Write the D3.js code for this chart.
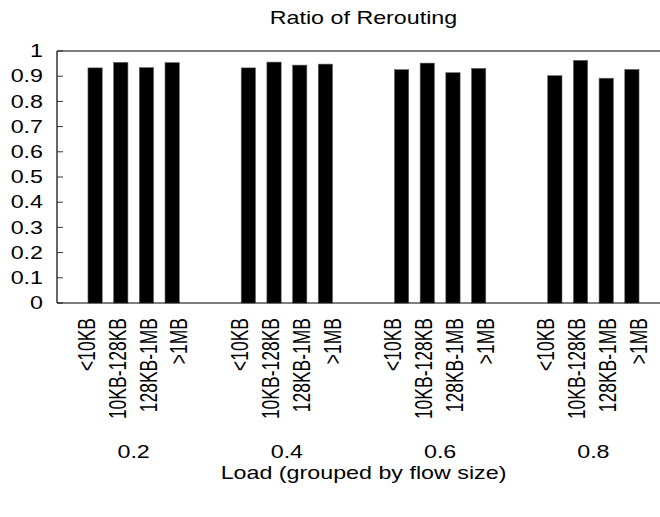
<!DOCTYPE html>
<html>
<head>
<meta charset="utf-8">
<script src="https://cdn.jsdelivr.net/npm/d3@7"></script>
<style>
  html, body { margin: 0; padding: 0; background: #fff; }
  svg { display: block; }
  text { font-family: "Liberation Sans", Arial, sans-serif; fill: #000; }
</style>
</head>
<body>
<svg id="chart" width="660" height="517"></svg>
<script>
// Loads on the x axis and the flow-size buckets inside each load group
const loads = ["0.2", "0.4", "0.6", "0.8"];
const sizes = ["<10KB", "10KB-128KB", "128KB-1MB", ">1MB"];

// Ratio of rerouted flows, one array per flow-size bucket (indexed by load)
const ratioLt10KB   = [0.933, 0.933, 0.926, 0.902];
const ratio10to128  = [0.955, 0.956, 0.952, 0.963];
const ratio128to1MB = [0.934, 0.944, 0.914, 0.892];
const ratioGt1MB    = [0.954, 0.948, 0.931, 0.927];

const yTicks = [0, 0.1, 0.2, 0.3, 0.4, 0.5, 0.6, 0.7, 0.8, 0.9, 1];

const series = [ratioLt10KB, ratio10to128, ratio128to1MB, ratioGt1MB];
const rows = loads.map((load, i) => ({
  load,
  values: sizes.map((size, j) => ({ size, value: series[j][i] }))
}));

const W = 660, H = 517;
const margin = { top: 51, left: 57, bottom: 214, right: -10 };
const plotW = W - margin.left - margin.right;
const plotH = H - margin.top - margin.bottom;
const SX = 1.33;    // horizontal stretch of the lettering
const FS = 17.5;

const svg = d3.select("#chart");
const g = svg.append("g").attr("transform", `translate(${margin.left},${margin.top})`);

const x0 = d3.scaleBand().domain(loads).range([0, plotW]).paddingInner(0.404).paddingOuter(0.202);
const x1 = d3.scaleBand().domain(sizes).range([0, x0.bandwidth()]).paddingInner(0.444).paddingOuter(0);
const xl = d3.scalePoint().domain(sizes).range([-1.5, x0.bandwidth()]);
const y = d3.scaleLinear().domain([0, 1]).range([plotH, 0]);

// frame: left, top and bottom edges
g.append("line").attr("x1", 0).attr("x2", 0).attr("y1", 0).attr("y2", plotH)
  .attr("stroke", "#000").attr("stroke-width", 1.2);
g.append("line").attr("x1", 0).attr("x2", plotW).attr("y1", 0).attr("y2", 0)
  .attr("stroke", "#000").attr("stroke-width", 1.2);

// y ticks (inward) and labels
const yTick = g.append("g").selectAll("g").data(yTicks).join("g")
  .attr("transform", d => `translate(0,${y(d)})`);
yTick.append("line").attr("x1", 0).attr("x2", 6).attr("stroke", "#333").attr("stroke-width", 1);
yTick.append("text")
  .attr("transform", `translate(-14,0) scale(${SX},1)`)
  .attr("text-anchor", "end").attr("dy", "0.35em")
  .style("font-size", FS + "px")
  .text(d => d3.format("")(+d.toFixed(1)));

// bars
const grp = g.append("g").selectAll("g").data(rows).join("g")
  .attr("transform", d => `translate(${x0(d.load)},0)`);
grp.selectAll("rect").data(d => d.values).join("rect")
  .attr("x", d => x1(d.size))
  .attr("y", d => y(d.value))
  .attr("width", x1.bandwidth())
  .attr("height", d => y(0) - y(d.value))
  .attr("fill", "#000")
  .attr("stroke", "#666").attr("stroke-width", 0.6);

// rotated flow-size labels
grp.selectAll("text.size").data(d => d.values).join("text")
  .attr("class", "size")
  .attr("transform", d => `translate(${xl(d.size)},${plotH + 15}) scale(${SX},1) rotate(-90)`)
  .attr("text-anchor", "end").attr("dy", "0.35em")
  .style("font-size", FS + "px")
  .text(d => d.size);

// load labels under each group
grp.append("text")
  .attr("transform", `translate(${x0.bandwidth() / 2},${plotH + 149}) scale(${SX},1)`)
  .attr("text-anchor", "middle").attr("dy", "0.35em")
  .style("font-size", FS + "px")
  .text(d => d.load);

// bottom edge on top of bar bases
g.append("line").attr("x1", 0).attr("x2", plotW).attr("y1", plotH).attr("y2", plotH)
  .attr("stroke", "#000").attr("stroke-width", 1.2);

// axis title and chart title
g.append("text")
  .attr("transform", `translate(${plotW / 2},${plotH + 170}) scale(${SX},1)`)
  .attr("text-anchor", "middle").attr("dy", "0.35em")
  .style("font-size", FS + "px")
  .text("Load (grouped by flow size)");
svg.append("text")
  .attr("transform", `translate(${margin.left + plotW / 2},18) scale(${SX},1)`)
  .attr("text-anchor", "middle").attr("dy", "0.35em")
  .style("font-size", FS + "px")
  .text("Ratio of Rerouting");
</script>
</body>
</html>
